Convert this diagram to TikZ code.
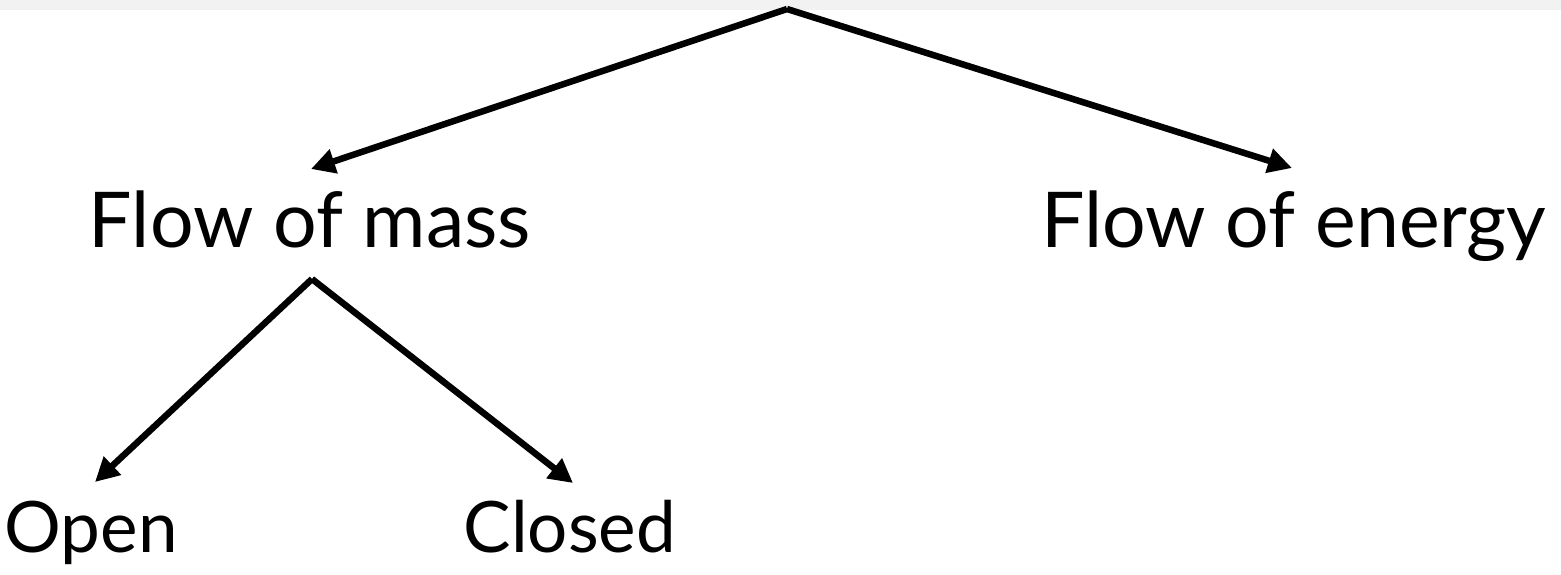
\documentclass[tikz,border=0pt]{standalone}
\usepackage{fontspec}
\setmainfont{Lato}
\usetikzlibrary{arrows.meta}
\begin{document}
\begin{tikzpicture}[x=1pt,y=-1pt,
  lbl/.style={anchor=base,inner sep=0pt,font=\fontsize{77}{90}\selectfont},
  slbl/.style={anchor=base,inner sep=0pt,font=\fontsize{71}{84}\selectfont},
  arr/.style={line width=6.5pt,-{Triangle[length=24pt,width=24pt]}}]
\useasboundingbox (0,0) rectangle (1561,574);
\fill[black!5] (0,0) rectangle (1561,10);
\coordinate (top) at (787,9);
\coordinate (tmass) at (311,169);
\coordinate (tenergy) at (1292,168);
\coordinate (mid) at (312,279);
\coordinate (topen) at (95,482);
\coordinate (tclosed) at (573,483);
\node[lbl] (mass) at (310,247) {Flow of mass};
\node[lbl] (energy) at (1294,247) {Flow of energy};
\node[slbl] (open) at (91,552) {Open};
\node[slbl] (closed) at (570,552) {Closed};
\draw[arr] (top) -- (tmass);
\draw[arr] (top) -- (tenergy);
\draw[arr] (mid) -- (topen);
\draw[arr] (mid) -- (tclosed);
\end{tikzpicture}
\end{document}
